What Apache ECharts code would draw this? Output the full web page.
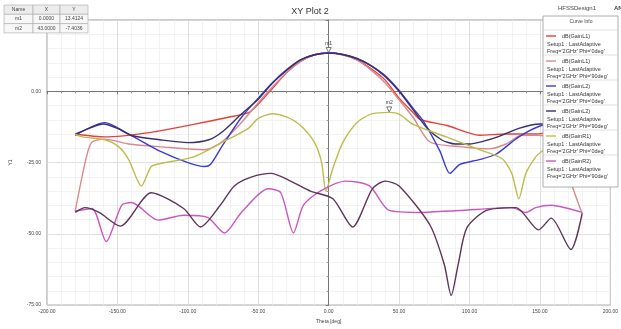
<!DOCTYPE html>
<html>
<head>
<meta charset="UTF-8">
<script src="https://cdn.jsdelivr.net/npm/echarts@6/dist/echarts.min.js"></script>
<style>
    *{margin:0;padding:0;}
    #main{width:621px;height:329px;background:#fff;}
</style>
</head>
<body>
<div id="main"></div>
<script>
    // curve data (theta in deg, gain in dB)
    var redTheta = [-180,-159,-126,-96,-72,-57,-50,-40,-30,-20,-10,0,10,20,30,40,50,60,65,84,107,126,147,165,180];
    var redGain  = [-15,-16,-14.4,-11.6,-9.2,-7.5,-4.5,1,6.5,10.5,12.8,13.4,12.8,11,8,4,-2.4,-7.5,-9.9,-12,-15.4,-15,-15,-14,-15];

    var pinkTheta = [-180,-172,-168,-159,-142,-119,-88,-76,-62,-50,-40,-30,-20,-10,0,10,20,30,40,50,60,72,95,114,126,137,149,163,172,180];
    var pinkGain  = [-42,-23,-17.8,-16.8,-18.5,-19.5,-20.5,-17.8,-11,-4,1.5,6.5,10.5,12.8,13.4,12.8,11,7.5,3,-3,-9.2,-17.8,-19.5,-20.2,-18.5,-15.4,-15.4,-18,-32,-43];

    var blueTheta = [-180,-159,-142,-119,-100,-88,-84,-76,-62,-50,-40,-30,-20,-10,0,10,20,30,40,50,60,67,79,86,93,107,119,135,151,165,180];
    var blueGain  = [-15.5,-11,-15,-21.2,-25,-26.4,-25.7,-19.5,-9.2,-2.4,3,7.5,11,12.8,13.4,12.9,11.5,9,5.5,0.3,-6,-10.3,-21,-28.8,-25.7,-24,-22,-16,-12,-11,-13];

    var navyTheta = [-180,-170,-160,-150,-140,-120,-100,-85,-75,-62,-50,-40,-30,-20,-10,0,10,20,30,40,50,60,70,80,90,100,110,120,135,150,165,180];
    var navyGain  = [-15,-13,-11.5,-13,-15.5,-17,-18,-17,-14,-8,-2.8,2.8,7.3,11,12.8,13.4,12.9,11.5,9,5.2,0,-6.5,-13,-17,-18.5,-18.5,-17.5,-16,-13,-11.5,-12,-15];

    var oliveTheta = [-180,-175,-159,-149,-142,-133,-126,-119,-96,-72,-57,-50,-40,-30,-20,-10,-5,-2,3,10,20,30,43,50,60,84,107,123,130,135,140,147,151,165,180];
    var oliveGain  = [-15,-16,-17,-19.5,-24,-33.2,-26.4,-25.3,-23,-17,-13,-9.5,-7.9,-9,-12,-18,-25,-35,-27,-18,-11,-8,-7.4,-8,-11.6,-16.1,-20.5,-23.6,-28.8,-37.7,-28.8,-23,-21.2,-17,-15];

    var magentaTheta = [-180,-168,-158,-147,-140,-121,-103,-86,-74,-62,-43,-34,-25,-18,-6,12,29,43,65,93,130,140,147,158,170,180];
    var magentaGain  = [-42,-41.1,-52.7,-40,-39,-45.2,-43.5,-44.2,-49.7,-42.5,-34.2,-35.6,-49.7,-40,-35,-31.5,-33.2,-41.8,-42.5,-41.8,-40.8,-42.5,-40.8,-40,-41.1,-42.5];

    var plumTheta = [-180,-173,-163,-148,-126,-103,-91,-77,-67,-55,-41,-27,-13,3,17,31,40,50,72,82,87,92,98,112,133,149,158,172,180];
    var plumGain  = [-42.5,-40.8,-42.5,-47.3,-35.6,-41.1,-47.6,-40,-33.2,-30.1,-28.8,-31.5,-35,-37.7,-47.6,-34.2,-31.5,-33.2,-47,-60.6,-71.6,-60.6,-48,-41.8,-40.8,-48.6,-44.5,-55.5,-42.8];

    var curveNames = ['dB(GainL1)','dB(GainL1) ','dB(GainL2)','dB(GainL2) ','dB(GainR1)','dB(GainR2)','dB(GainR2) '];
    var curvePhi   = ['0deg','90deg','0deg','90deg','0deg','90deg','45deg'];
    var curveColors = ['#e5403a','#d88a8a','#3b3bd2','#3a2f6e','#bdbd4e','#cc55c4','#5c3558'];

    var markers = [
        {name:'m1', x:0, y:13.4124},
        {name:'m2', x:43, y:-7.4036}
    ];

    function zip(t, g) {
        var out = [];
        for (var i = 0; i < t.length; i++) out.push([t[i], g[i]]);
        return out;
    }

    var seriesData = [
        zip(redTheta, redGain),
        zip(pinkTheta, pinkGain),
        zip(blueTheta, blueGain),
        zip(navyTheta, navyGain),
        zip(oliveTheta, oliveGain),
        zip(magentaTheta, magentaGain),
        zip(plumTheta, plumGain)
    ];

    var myChart = echarts.init(document.getElementById('main'));

    var series = [];
    for (var i = 0; i < seriesData.length; i++) {
        series.push({
            name: curveNames[i],
            type: 'line',
            data: seriesData[i],
            smooth: 0.25,
            symbol: 'none',
            z: 2,
            lineStyle: {color: curveColors[i], width: 1.4},
            itemStyle: {color: curveColors[i]}
        });
    }
    // marker m1 on the main beam, m2 on the cross-pol lobe
    function markFor(m) {
        return {
            coord: [m.x, m.y],
            symbol: 'triangle',
            symbolSize: 5,
            symbolRotate: 180,
            symbolOffset: [0, -3],
            itemStyle: {color: '#fff', borderColor: '#555', borderWidth: 0.8},
            label: {show: true, position: 'top', distance: 1, formatter: m.name, fontSize: 5, color: '#333'}
        };
    }
    series[2].markPoint = {silent: true, data: [markFor(markers[0])]};
    series[4].markPoint = {silent: true, data: [markFor(markers[1])]};

    // marker table (top left)
    var tableRows = [['Name','X','Y']];
    markers.forEach(function (m) {
        tableRows.push([m.name, m.x.toFixed(4), m.y.toFixed(4)]);
    });
    var colX = [4, 33, 60], colW = [29, 27, 28];
    var graphics = [];
    tableRows.forEach(function (row, r) {
        row.forEach(function (cell, c) {
            graphics.push({
                type: 'rect', z: 10,
                shape: {x: colX[c], y: 5 + r * 9.3, width: colW[c], height: 9.3},
                style: {fill: r === 0 ? '#ececec' : '#f7f7f7', stroke: '#aaa', lineWidth: 0.6}
            });
            graphics.push({
                type: 'text', z: 11,
                style: {x: colX[c] + colW[c] / 2, y: 5 + r * 9.3 + 4.8, text: cell,
                    font: '5px Arial', fill: '#444', textAlign: 'center', textVerticalAlign: 'middle'}
            });
        });
    });
    graphics.push({type: 'text', z: 11, style: {x: 558, y: 8, text: 'HFSSDesign1', font: '6px Arial', fill: '#444', textVerticalAlign: 'middle'}});
    graphics.push({type: 'text', z: 11, style: {x: 614, y: 8, text: 'ANSOFT', font: 'bold 6px Arial', fill: '#444', textVerticalAlign: 'middle'}});

    // curve info box
    graphics.push({type: 'rect', z: 8, shape: {x: 543, y: 16, width: 75, height: 171},
        style: {fill: '#fff', stroke: '#999', lineWidth: 0.8}});
    graphics.push({type: 'text', z: 9, style: {x: 581, y: 22, text: 'Curve Info', font: '5px Arial', fill: '#444', textAlign: 'center', textVerticalAlign: 'middle'}});
    for (var k = 0; k < 6; k++) {
        var y0 = 36 + k * 25;
        graphics.push({type: 'line', z: 9, shape: {x1: 543, y1: y0 - 6, x2: 618, y2: y0 - 6},
            style: {stroke: '#ccc', lineWidth: 0.6}});
        graphics.push({type: 'line', z: 9, shape: {x1: 546, y1: y0, x2: 556, y2: y0},
            style: {stroke: curveColors[k], lineWidth: 1.4}});
        graphics.push({type: 'text', z: 9, style: {x: 562, y: y0, text: curveNames[k].trim(),
            font: '5.5px Arial', fill: '#333', textVerticalAlign: 'middle'}});
        graphics.push({type: 'text', z: 9, style: {x: 547, y: y0 + 8, text: 'Setup1 : LastAdaptive',
            font: '5.5px Arial', fill: '#333', textVerticalAlign: 'middle'}});
        graphics.push({type: 'text', z: 9, style: {x: 547, y: y0 + 15.5, text: 'Freq=\'2GHz\' Phi=\'' + curvePhi[k] + '\'',
            font: '5.5px Arial', fill: '#333', textVerticalAlign: 'middle'}});
    }

    var option = {
        animation: false,
        backgroundColor: '#fff',
        title: {
            text: 'XY Plot 2',
            left: 305, top: 2,
            textAlign: 'center',
            textStyle: {fontSize: 9, fontWeight: 'normal', color: '#333', fontFamily: 'Arial'}
        },
        grid: {left: 45, right: 9, top: 20, bottom: 17, show: true, borderColor: '#999', borderWidth: 1},
        xAxis: {
            type: 'value', min: -200, max: 200, interval: 50,
            name: 'Theta [deg]', nameLocation: 'middle', nameGap: 11,
            nameTextStyle: {fontSize: 5, color: '#444'},
            axisLine: {lineStyle: {color: '#777'}},
            axisTick: {length: 3, lineStyle: {color: '#777'}},
            minorTick: {show: true, splitNumber: 5, length: 2, lineStyle: {color: '#999'}},
            axisLabel: {fontSize: 5, color: '#444', margin: 4, formatter: function (v) { return v.toFixed(2); }},
            splitLine: {lineStyle: {color: '#d6d6d6', width: 0.8}},
            minorSplitLine: {show: true, lineStyle: {color: '#efefef', width: 0.8}}
        },
        yAxis: {
            type: 'value', min: -75, max: 25, interval: 25,
            name: 'Y1', nameLocation: 'middle', nameRotate: 90, nameGap: 34,
            nameTextStyle: {fontSize: 5, color: '#444'},
            axisLine: {show: true, lineStyle: {color: '#777'}},
            axisTick: {show: true, length: 3, lineStyle: {color: '#777'}},
            minorTick: {show: true, splitNumber: 5, length: 2, lineStyle: {color: '#999'}},
            axisLabel: {fontSize: 5, color: '#444', margin: 6, showMaxLabel: false,
                formatter: function (v) { return v.toFixed(2); }},
            splitLine: {lineStyle: {color: '#d6d6d6', width: 0.8}},
            minorSplitLine: {show: true, lineStyle: {color: '#efefef', width: 0.8}}
        },
        graphic: graphics,
        series: series
    };

    myChart.setOption(option);
    window.onresize = myChart.resize;
</script>
</body>
</html>
